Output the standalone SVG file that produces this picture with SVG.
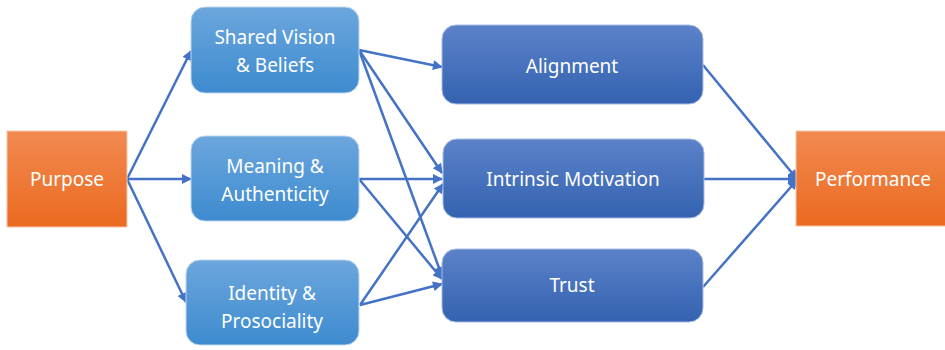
<svg xmlns="http://www.w3.org/2000/svg" width="945" height="350" viewBox="0 0 945 350">
<defs>
<linearGradient id="gOrange" x1="0" y1="0" x2="0" y2="1"><stop offset="0" stop-color="#f18a50"/><stop offset="1" stop-color="#eb6a20"/></linearGradient>
<linearGradient id="gLight" x1="0" y1="0" x2="0" y2="1"><stop offset="0" stop-color="#6ca6dd"/><stop offset="1" stop-color="#3d8bcf"/></linearGradient>
<linearGradient id="gDark" x1="0" y1="0" x2="0" y2="1"><stop offset="0" stop-color="#5b82c9"/><stop offset="1" stop-color="#3462b0"/></linearGradient>
<marker id="arr" viewBox="0 0 10 10" refX="9" refY="5" markerWidth="5" markerHeight="4" orient="auto" markerUnits="strokeWidth"><path d="M0,0 L10,5 L0,10 z" fill="#4472c4"/></marker>
<style>
.orange{fill:url(#gOrange);stroke:#f7c7a8;stroke-width:1}
.light{fill:url(#gLight);stroke:#bcd6f0;stroke-width:1}
.dark{fill:url(#gDark);stroke:#a9bce3;stroke-width:1}
text{font-family:"Noto Sans","Open Sans","Liberation Sans",sans-serif;font-size:19px;fill:#ffffff;text-anchor:middle}
.c line{stroke:#4472c4;stroke-width:2.5;marker-end:url(#arr)}
</style>
</defs>
<g id="connectors" class="c">
<line x1="127" y1="179" x2="191" y2="51"/>
<line x1="127" y1="179" x2="191" y2="179"/>
<line x1="127" y1="179" x2="186" y2="302"/>
<line x1="359" y1="50" x2="442" y2="67"/>
<line x1="359" y1="50" x2="442" y2="173"/>
<line x1="359" y1="50" x2="442" y2="276"/>
<line x1="359" y1="179" x2="442" y2="179"/>
<line x1="359" y1="179" x2="442" y2="279"/>
<line x1="360" y1="305" x2="443" y2="184"/>
<line x1="360" y1="305" x2="442" y2="284"/>
<line x1="703" y1="65" x2="797" y2="179"/>
<line x1="704" y1="179" x2="797" y2="179"/>
<line x1="703" y1="287" x2="797" y2="180"/>
</g>
<g id="purpose"><rect class="orange" x="7" y="131" width="120" height="96"/><text x="67" y="186">Purpose</text></g>
<g id="shared-vision"><rect class="light" x="191" y="7" width="168" height="86" rx="14"/><text x="275" y="44">Shared Vision</text><text x="275" y="72">&amp; Beliefs</text></g>
<g id="meaning"><rect class="light" x="191" y="136" width="168" height="85" rx="14"/><text x="275" y="173">Meaning &amp;</text><text x="275" y="201">Authenticity</text></g>
<g id="identity"><rect class="light" x="186" y="260" width="173" height="85" rx="14"/><text x="272" y="300">Identity &amp;</text><text x="272" y="328">Prosociality</text></g>
<g id="alignment"><rect class="dark" x="442" y="25" width="261" height="79" rx="14"/><text x="572" y="73">Alignment</text></g>
<g id="intrinsic"><rect class="dark" x="443" y="139" width="261" height="79" rx="14"/><text x="573" y="186">Intrinsic Motivation</text></g>
<g id="trust"><rect class="dark" x="442" y="249" width="261" height="73" rx="14"/><text x="572" y="292">Trust</text></g>
<g id="performance"><rect class="orange" x="796" y="131" width="152" height="95"/><text x="873" y="186">Performance</text></g>
</svg>
